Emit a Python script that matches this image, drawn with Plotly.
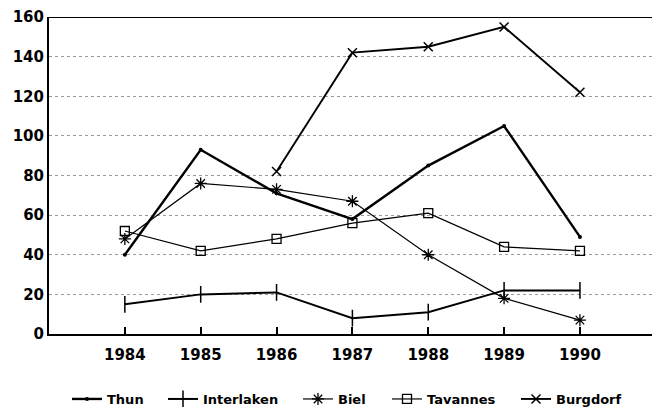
import plotly.graph_objects as go

years = [1984, 1985, 1986, 1987, 1988, 1989, 1990]
thun = [40, 93, 71, 58, 85, 105, 49]
interlaken = [15, 20, 21, 8, 11, 22, 22]
biel = [48, 76, 73, 67, 40, 18, 7]
tavannes = [52, 42, 48, 56, 61, 44, 42]
burgdorf = [None, None, 82, 142, 145, 155, 122]
y_ticks = [0, 20, 40, 60, 80, 100, 120, 140, 160]

FONT = "DejaVu Sans, Liberation Sans, sans-serif"
W, H = 652, 407

fig = go.Figure()
series = [
    ("Thun", thun, dict(symbol="circle", size=4), 2.4),
    ("Interlaken", interlaken, dict(symbol="line-ns", size=12, line=dict(width=1.5, color="black")), 2.0),
    ("Biel", biel, dict(symbol="asterisk", size=10, line=dict(width=1.3, color="black")), 1.2),
    ("Tavannes", tavannes, dict(symbol="square-open", size=9, line=dict(width=1.3, color="black")), 1.2),
    ("Burgdorf", burgdorf, dict(symbol="x-thin", size=9, line=dict(width=1.5, color="black")), 1.9),
]
legend_x_px = [67, 163, 298, 387, 516]
legend_names = ["legend"] + [f"legend{i}" for i in range(2, 6)]

legends = {}
for i, (name, vals, mk, lw) in enumerate(series):
    fig.add_trace(go.Scatter(
        x=years, y=vals, name=name, mode="lines+markers",
        line=dict(color="black", width=lw),
        marker=dict(color="black", **mk),
        legend=legend_names[i],
    ))
    legends[legend_names[i]] = dict(
        orientation="h", xref="container", yref="container",
        x=legend_x_px[i] / W, xanchor="left", y=(H - 399) / H, yanchor="middle",
        font=dict(family=FONT, size=13, weight="bold"),
        bgcolor="rgba(0,0,0,0)", borderwidth=0,
    )

fig.add_shape(type="line", xref="paper", yref="y", x0=0, x1=1, y0=160, y1=160,
              line=dict(color="black", width=2))

fig.update_layout(
    width=W, height=H,
    margin=dict(l=49, r=0, t=17, b=73),
    paper_bgcolor="white", plot_bgcolor="white",
    font=dict(family=FONT, color="black", size=14, weight="bold"),
    showlegend=True,
    xaxis=dict(range=[1983, 1990.95], tickvals=years, showgrid=False, zeroline=False,
               showline=True, linecolor="black", linewidth=2, automargin=False,
               ticks="inside", ticklen=7, tickcolor="black", tickwidth=1.5,
               ticklabelstandoff=6,
               tickfont=dict(family=FONT, size=15, weight="bold")),
    yaxis=dict(range=[0, 160], tickvals=y_ticks, showgrid=True, gridcolor="#9a9a9a",
               griddash="dot", gridwidth=1, zeroline=False, automargin=False,
               showline=True, linecolor="black", linewidth=2,
               ticks="", tickfont=dict(family=FONT, size=15, weight="bold")),
    **legends,
)

fig.write_html("out.html", config={"displayModeBar": False},
               post_script="document.body.style.margin='0';document.body.style.overflow='hidden';")
